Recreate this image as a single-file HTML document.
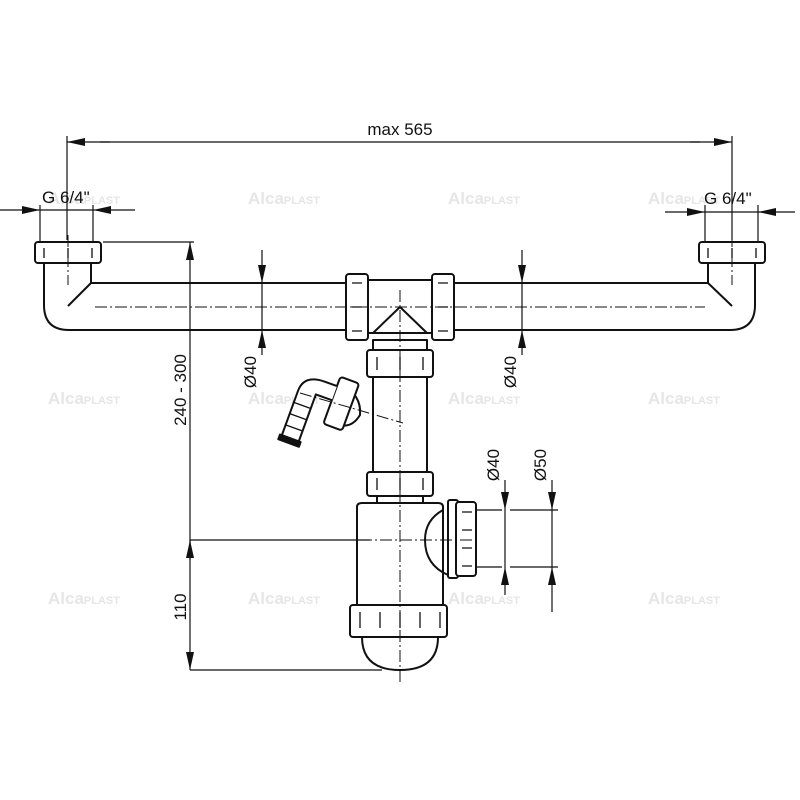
<!DOCTYPE html>
<html><head><meta charset="utf-8"><style>html,body{margin:0;padding:0;background:#fff}svg{display:block}</style></head>
<body>
<svg width="800" height="800" viewBox="0 0 800 800" xmlns="http://www.w3.org/2000/svg" font-family="Liberation Sans, sans-serif">
<defs>
<marker id="a" markerWidth="18" markerHeight="8" refX="18" refY="4" orient="auto" markerUnits="userSpaceOnUse"><path d="M0,0 L18,4 L0,8z" fill="#111"/></marker>
</defs>
<!-- watermarks -->
<g fill="#e6e6e6" font-weight="bold" font-size="17">
<text x="248" y="204">Alca<tspan font-size="11">PLAST</tspan></text>
<text x="448" y="204">Alca<tspan font-size="11">PLAST</tspan></text>
<text x="648" y="204">Alca<tspan font-size="11">PLAST</tspan></text>
<text x="48" y="204">Alca<tspan font-size="11">PLAST</tspan></text>
<text x="48" y="404">Alca<tspan font-size="11">PLAST</tspan></text>
<text x="248" y="404">Alca<tspan font-size="11">PLAST</tspan></text>
<text x="448" y="404">Alca<tspan font-size="11">PLAST</tspan></text>
<text x="648" y="404">Alca<tspan font-size="11">PLAST</tspan></text>
<text x="48" y="604">Alca<tspan font-size="11">PLAST</tspan></text>
<text x="248" y="604">Alca<tspan font-size="11">PLAST</tspan></text>
<text x="448" y="604">Alca<tspan font-size="11">PLAST</tspan></text>
<text x="648" y="604">Alca<tspan font-size="11">PLAST</tspan></text>
</g>
<!-- piping -->
<g stroke="#111" stroke-width="2" fill="#fff" stroke-linejoin="round">
<path d="M44,263 V305 Q44,330 69,330 H346 M91,263 V283 H346 M91,283 L68,306"/>
<path d="M755,263 V305 Q755,330 730,330 H454 M708,263 V283 H454 M708,283 L732,306"/>
<rect x="35" y="242" width="66" height="21" rx="3"/>
<rect x="699" y="242" width="66" height="21" rx="3"/>
<path d="M368,280 H432 V333 H368Z"/>
<path d="M373,333 L400,307 L427,333" fill="none"/>
<rect x="346" y="274" width="22" height="66" rx="3"/>
<rect x="432" y="274" width="22" height="66" rx="3"/>
<rect x="373" y="340" width="54" height="140"/>
<rect x="367" y="350" width="66" height="27" rx="3"/>
<rect x="367" y="472" width="66" height="24" rx="3"/>
<path d="M377,496 H423 V503 H377Z"/>
<path d="M357,507 Q357,503 362,503 H438 Q443,503 443,507 V605 H357Z"/>
<path d="M443,510 Q425,520 425,540 Q425,565 448,575" fill="none"/>
<rect x="448" y="500" width="10" height="78" rx="2"/>
<rect x="456" y="502" width="20" height="74" rx="3"/>
<path d="M362,637 Q362,670 400,670 Q438,670 438,637"/>
<rect x="350" y="605" width="97" height="32" rx="3"/>
<!-- hose connector -->
<path d="M340,383 Q362,395 360,415 Q352,428 340,425 L330,415Z"/>
<g transform="rotate(20 345 405)">
<rect x="331" y="380" width="20" height="50" rx="3"/>
<path d="M331,390 H318 Q296,390 296,408 V455 H314 V405 H331" />
<path d="M296,420 H314 M296,432 H314 M296,444 H314" fill="none" stroke-width="1.3"/>
<rect x="294" y="455" width="22" height="5" fill="#111"/>
</g>
</g>
<!-- nut slots -->
<g stroke="#111" stroke-width="1.3" fill="none">
<path d="M44,248 V258 M68,248 V258 M92,248 V258 M708,248 V258 M732,248 V258 M756,248 V258"/>
<path d="M352,283 H362 M352,307 H362 M352,331 H362 M438,283 H448 M438,307 H448 M438,331 H448"/>
<path d="M377,357 V370 M400,357 V370 M423,357 V370 M377,478 V490 M400,478 V490 M423,478 V490"/>
<path d="M462,512 H472 M462,530 H472 M462,548 H472 M462,566 H472"/>
<path d="M360,612 V628 M380,612 V628 M400,612 V628 M420,612 V628 M440,612 V628"/>
</g>
<!-- center lines -->
<g stroke="#111" stroke-width="1" fill="none" stroke-dasharray="12,3,2,3">
<line x1="95" y1="307" x2="705" y2="307"/>
<line x1="400" y1="290" x2="400" y2="685"/>
<line x1="68" y1="235" x2="68" y2="285"/><line x1="732" y1="235" x2="732" y2="285"/>
<line x1="360" y1="540" x2="478" y2="540"/>
<line x1="300" y1="393" x2="403" y2="423"/>
</g>
<g stroke="#111" fill="none" stroke-width="1.2">
<!-- max 565 -->
<line x1="67" y1="136" x2="67" y2="240"/><line x1="732" y1="136" x2="732" y2="240"/>
<line x1="110" y1="142" x2="67" y2="142" marker-end="url(#a)"/><line x1="690" y1="142" x2="732" y2="142" marker-end="url(#a)"/>
<line x1="100" y1="142" x2="700" y2="142"/>
<!-- G 6/4 left -->
<line x1="40" y1="205" x2="40" y2="243"/><line x1="93" y1="205" x2="93" y2="243"/>
<line x1="0" y1="210" x2="40" y2="210" marker-end="url(#a)"/><line x1="135" y1="210" x2="93" y2="210" marker-end="url(#a)"/>
<line x1="40" y1="210" x2="93" y2="210"/>
<!-- G 6/4 right -->
<line x1="705" y1="205" x2="705" y2="243"/><line x1="758" y1="205" x2="758" y2="243"/>
<line x1="665" y1="212" x2="705" y2="212" marker-end="url(#a)"/><line x1="795" y1="212" x2="758" y2="212" marker-end="url(#a)"/>
<line x1="705" y1="212" x2="758" y2="212"/>
<!-- 240-300 / 110 -->
<line x1="103" y1="242" x2="194" y2="242"/>
<line x1="190" y1="540" x2="190" y2="242" marker-end="url(#a)"/>
<line x1="190" y1="540" x2="370" y2="540"/>
<line x1="190" y1="540" x2="190" y2="670" marker-end="url(#a)"/>
<line x1="190" y1="560" x2="190" y2="540" marker-end="url(#a)"/>
<line x1="190" y1="670" x2="382" y2="670"/>
<!-- Ø40 top dims -->
<line x1="262" y1="250" x2="262" y2="283" marker-end="url(#a)"/><line x1="262" y1="355" x2="262" y2="330" marker-end="url(#a)"/><line x1="262" y1="283" x2="262" y2="330"/>
<line x1="522" y1="250" x2="522" y2="283" marker-end="url(#a)"/><line x1="522" y1="355" x2="522" y2="330" marker-end="url(#a)"/><line x1="522" y1="283" x2="522" y2="330"/>
<!-- Ø40 / Ø50 right -->
<line x1="476" y1="510" x2="502" y2="510"/><line x1="476" y1="567" x2="502" y2="567"/>
<line x1="510" y1="510" x2="558" y2="510"/><line x1="510" y1="567" x2="558" y2="567"/>
<line x1="505" y1="480" x2="505" y2="510" marker-end="url(#a)"/><line x1="505" y1="595" x2="505" y2="567" marker-end="url(#a)"/><line x1="505" y1="510" x2="505" y2="567"/>
<line x1="552" y1="480" x2="552" y2="510" marker-end="url(#a)"/><line x1="552" y1="612" x2="552" y2="567" marker-end="url(#a)"/><line x1="552" y1="510" x2="552" y2="567"/>
</g>
<!-- text -->
<g fill="#111" font-size="17">
<text x="400" y="135" text-anchor="middle">max 565</text>
<text x="42" y="203">G 6/4"</text>
<text x="704" y="204">G 6/4"</text>
<text transform="translate(186,390) rotate(-90)" text-anchor="middle">240 - 300</text>
<text transform="translate(186,607) rotate(-90)" text-anchor="middle">110</text>
<text transform="translate(256,372) rotate(-90)" text-anchor="middle">Ø40</text>
<text transform="translate(516,372) rotate(-90)" text-anchor="middle">Ø40</text>
<text transform="translate(499,465) rotate(-90)" text-anchor="middle">Ø40</text>
<text transform="translate(546,465) rotate(-90)" text-anchor="middle">Ø50</text>
</g>
</svg>
</body></html>
